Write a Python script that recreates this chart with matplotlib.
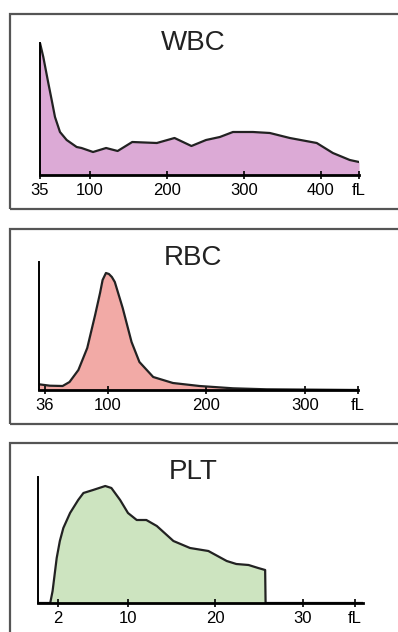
import matplotlib
matplotlib.use("Agg")
import matplotlib.pyplot as plt
from matplotlib.patches import Rectangle

plt.rcParams['font.family'] = ['Liberation Sans', 'DejaVu Sans']

# WBC histogram (volume fL vs relative count)
wbc_x = [35, 39.3, 45.8, 50.2, 54.5, 61, 69.7, 82.7, 89, 104, 121, 136, 155,
         187, 210, 232, 251, 269, 286, 312, 334, 360, 395, 416, 438, 450]
wbc_y = [132, 118, 92, 75, 58, 43, 35, 28, 27, 23, 27, 24, 33,
         32, 37, 29, 35, 38, 43, 43, 42, 37, 32, 22, 15, 13]
wbc_ticks = [35, 100, 200, 300, 400, 450]
wbc_labels = ['35', '100', '200', '300', '400', 'fL']

# RBC histogram
rbc_x = [30, 41, 54, 61, 70, 79, 87, 92, 94.6, 98, 101, 104, 107, 115, 124,
         132, 146, 166, 193, 227, 261, 354]
rbc_y = [5.7, 4.3, 4, 8, 20, 42, 75, 97, 110, 117, 116, 113, 108, 82, 48,
         28, 13, 7, 4, 1.7, 0.7, 0]
rbc_ticks = [36, 100, 200, 300, 354]
rbc_labels = ['36', '100', '200', '300', 'fL']

# PLT histogram
plt_x = [-0.3, 1.1, 1.37, 1.84, 2.2, 2.6, 3.37, 4.3, 4.9, 6.0, 7.4, 8.1, 9.1,
         10, 11, 12.1, 13.3, 15.2, 17.1, 19.2, 21.3, 22.4, 23.8, 24.9, 25.7,
         25.75, 36.9]
plt_y = [0, 0, 12, 45, 62, 75, 90, 103, 110, 113, 117, 115, 103,
         90, 83, 83, 77, 62, 55, 52, 42, 39, 38, 35, 33,
         0, 0]
plt_ticks = [2, 10, 20, 30, 36]
plt_labels = ['2', '10', '20', '30', 'fL']

W, H = 398, 632
fig = plt.figure(figsize=(W / 100, H / 100), dpi=100)


def px_axes(left, right, base, top):
    return fig.add_axes([left / W, 1 - base / H, (right - left) / W, (base - top) / H])


def frame(top, bottom):
    fig.patches.append(Rectangle((10 / W, 1 - bottom / H), 400 / W, (bottom - top) / H,
                                 transform=fig.transFigure, fill=False,
                                 edgecolor='#555555', linewidth=1.6))


panels = [
    ('WBC', wbc_x, wbc_y, wbc_ticks, wbc_labels, '#dcaad6', (40, 359, 175, 43), (35, 450), 132, (14, 209), 43),
    ('RBC', rbc_x, rbc_y, rbc_ticks, rbc_labels, '#f2aaa6', (39, 358, 390, 262), (30, 354), 128, (229, 424), 258),
    ('PLT', plt_x, plt_y, plt_ticks, plt_labels, '#cde4c0', (38, 363, 603, 477), (-0.3, 36.9), 126, (443, 640), 472),
]

for name, xs, ys, ticks, labels, col, box, xlim, ymax, fr, ty in panels:
    frame(*fr)
    ax = px_axes(*box)
    ax.fill_between(xs, ys, 0, color=col, linewidth=0)
    ax.plot(xs, ys, color='#222222', linewidth=1.6, solid_joinstyle='round')
    ax.set_xlim(*xlim)
    ax.set_ylim(0, ymax)
    ax.patch.set_alpha(0)
    for s in ['top', 'right']:
        ax.spines[s].set_visible(False)
    ax.spines['left'].set_linewidth(1.4)
    ax.spines['bottom'].set_linewidth(2)
    ax.set_yticks([])
    ax.set_xticks(ticks)
    ax.set_xticklabels(labels)
    ax.tick_params(axis='x', direction='inout', length=6, width=1.2, labelsize=12, pad=3)
    fig.text(193 / W, 1 - ty / H, name, ha='center', va='center', fontsize=20, color='#222222')

fig.savefig('out.png', dpi=100)
